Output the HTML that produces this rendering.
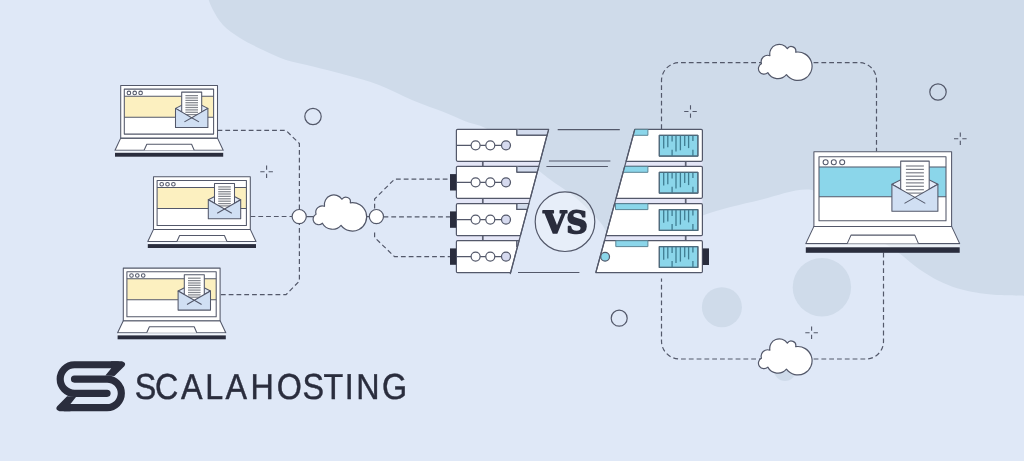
<!DOCTYPE html>
<html lang="en">
<head>
<meta charset="utf-8">
<title>ScalaHosting - VS</title>
<style>
html,body{margin:0;padding:0;background:#dfe8f7;}
body{width:1024px;height:461px;overflow:hidden;}
svg{display:block;will-change:transform;}
</style>
</head>
<body>
<svg width="1024" height="461" viewBox="0 0 1024 461">
<rect x="0" y="0" width="1024" height="461" fill="#dfe8f7"/>
<path d="M208.0,-2.0 C208.8,0.0 210.5,5.5 213.0,10.0 C215.5,14.5 218.5,20.3 223.0,25.0 C227.5,29.7 233.3,33.8 240.0,38.0 C246.7,42.2 255.3,46.3 263.0,50.0 C270.7,53.7 277.7,57.2 286.0,60.0 C294.3,62.8 303.0,64.0 313.0,66.5 C323.0,69.0 335.0,71.9 346.0,75.0 C357.0,78.1 368.0,80.8 379.0,85.0 C390.0,89.2 400.8,95.3 412.0,100.0 C423.2,104.7 437.0,109.4 446.0,113.0 C455.0,116.6 458.8,118.7 466.0,121.5 C473.2,124.3 480.0,124.4 489.0,130.0 C498.0,135.6 510.2,147.0 520.0,155.0 C529.8,163.0 538.8,171.0 548.0,178.0 C557.2,185.0 566.3,189.7 575.0,197.0 C583.7,204.3 593.8,215.2 600.0,222.0 C606.2,228.8 605.3,234.2 612.0,238.0 C618.7,241.8 629.5,246.0 640.0,245.0 C650.5,244.0 664.3,237.0 675.0,232.0 C685.7,227.0 689.8,220.3 704.0,215.0 C718.2,209.7 742.0,204.2 760.0,200.0 C778.0,195.8 797.0,187.5 812.0,190.0 C827.0,192.5 838.7,206.7 850.0,215.0 C861.3,223.3 871.8,233.7 880.0,240.0 C888.2,246.3 892.5,248.2 899.0,253.0 C905.5,257.8 912.4,264.4 919.0,269.0 C925.6,273.6 932.0,277.4 938.5,280.7 C945.0,283.9 951.5,286.5 958.0,288.5 C964.5,290.5 971.1,291.7 977.6,292.8 C984.1,293.9 988.9,294.5 997.0,295.0 C1005.1,295.5 1021.2,295.7 1026.0,295.8 L1026,-2 Z" fill="#cfdbea"/>
<circle cx="721.9" cy="307.2" r="20" fill="#cfdbea"/>
<circle cx="821.9" cy="287.2" r="29.2" fill="#cfdbea"/>
<circle cx="785" cy="370" r="11" fill="#cfdbea"/>
<path d="M217.5,130.4 H286 L299.4,143.6 V281 L286,294.7 H220" fill="none" stroke="#53586a" stroke-width="1.20" stroke-dasharray="4.8 3" stroke-dashoffset="0"/>
<path d="M250.5,216.5 H292" fill="none" stroke="#53586a" stroke-width="1.20" stroke-dasharray="4.8 3" stroke-dashoffset="0"/>
<path d="M306,216.6 H314 M366,216.6 H370" stroke="#53586a" stroke-width="1.20" fill="none"/>
<path d="M383.5,216.8 H450" fill="none" stroke="#53586a" stroke-width="1.20" stroke-dasharray="4.8 3" stroke-dashoffset="0"/>
<path d="M374.6,208.5 V199 L394.5,179.2 H450" fill="none" stroke="#53586a" stroke-width="1.20" stroke-dasharray="4.8 3" stroke-dashoffset="0"/>
<path d="M374.6,232.5 V237.5 L394.5,256.6 H450" fill="none" stroke="#53586a" stroke-width="1.20" stroke-dasharray="4.8 3" stroke-dashoffset="0"/>
<path d="M661.5,129 V80.5 A18,18 0 0 1 679.5,62.6 H859 A17.5,17.5 0 0 1 876.5,80 V151.5" fill="none" stroke="#53586a" stroke-width="1.20" stroke-dasharray="4.8 3" stroke-dashoffset="0"/>
<path d="M883.5,252.6 V341.5 A17.5,17.5 0 0 1 866,359 H679.5 A18,18 0 0 1 661.5,341 V278.5" fill="none" stroke="#53586a" stroke-width="1.20" stroke-dasharray="4.8 3" stroke-dashoffset="0"/>
<circle cx="313.0" cy="116.5" r="8.2" fill="none" stroke="#53586a" stroke-width="1.20"/>
<circle cx="938.0" cy="92.0" r="8.2" fill="none" stroke="#53586a" stroke-width="1.20"/>
<circle cx="619.2" cy="318.2" r="8.0" fill="none" stroke="#53586a" stroke-width="1.20"/>
<path d="M260.3,171.8 h4.3 M268.6,171.8 h4.3 M266.6,165.5 v4.3 M266.6,173.8 v4.3" stroke="#53586a" stroke-width="1.1" fill="none"/>
<path d="M684.2,111.5 h4.3 M692.5,111.5 h4.3 M690.5,105.2 v4.3 M690.5,113.5 v4.3" stroke="#53586a" stroke-width="1.1" fill="none"/>
<path d="M954.0,138.8 h4.3 M962.3,138.8 h4.3 M960.3,132.5 v4.3 M960.3,140.8 v4.3" stroke="#53586a" stroke-width="1.1" fill="none"/>
<path d="M805.3,332.7 h4.3 M813.6,332.7 h4.3 M811.6,326.4 v4.3 M811.6,334.7 v4.3" stroke="#53586a" stroke-width="1.1" fill="none"/>
<circle cx="299.2" cy="216.6" r="7.1" fill="#fff" stroke="#53586a" stroke-width="1.20"/>
<circle cx="376.4" cy="216.6" r="7.1" fill="#fff" stroke="#53586a" stroke-width="1.20"/>
<path transform="translate(289.60,182.60) scale(0.130208)" d="M203.0,243.0 A42.7,42.7 0 1 0 252.0,312.0 A87.1,87.1 0 0 0 395.0,328.0 A109.2,109.2 0 1 0 466.0,155.0 A35.2,35.2 0 0 0 402.0,128.0 A73.7,73.7 0 0 0 268.0,182.0 A49.9,49.9 0 0 0 203.0,243.0 Z" fill="#fff" stroke="#53586a" stroke-width="9.22" stroke-linejoin="round"/>
<path transform="translate(735.00,32.00) scale(0.130208)" d="M203.0,243.0 A42.7,42.7 0 1 0 252.0,312.0 A87.1,87.1 0 0 0 395.0,328.0 A109.2,109.2 0 1 0 466.0,155.0 A35.2,35.2 0 0 0 402.0,128.0 A73.7,73.7 0 0 0 268.0,182.0 A49.9,49.9 0 0 0 203.0,243.0 Z" fill="#fff" stroke="#53586a" stroke-width="9.22" stroke-linejoin="round"/>
<path transform="translate(735.00,326.50) scale(0.130208)" d="M203.0,243.0 A42.7,42.7 0 1 0 252.0,312.0 A87.1,87.1 0 0 0 395.0,328.0 A109.2,109.2 0 1 0 466.0,155.0 A35.2,35.2 0 0 0 402.0,128.0 A73.7,73.7 0 0 0 268.0,182.0 A49.9,49.9 0 0 0 203.0,243.0 Z" fill="#fff" stroke="#53586a" stroke-width="9.22" stroke-linejoin="round"/>
<g stroke="#53586a" stroke-width="1.05" stroke-linejoin="round"><path d="M120.7,138.1 L115.0,150.2 H223.2 L217.5,138.1 Z" fill="#fff"/><path d="M144.1,150.2 L146.8,144.2 H191.6 L194.2,150.2" fill="#fff"/><rect x="120.7" y="85.5" width="96.8" height="52.6" fill="#fff"/><rect x="124.3" y="96.2" width="89.3" height="21.0" fill="#fcf0c0" stroke="none"/><rect x="124.3" y="89.1" width="89.3" height="45.0" fill="none"/><path d="M124.3,96.2 H213.6 M124.3,117.2 H213.6" fill="none"/><circle cx="128.9" cy="92.9" r="1.8" fill="#fff"/><circle cx="134.7" cy="92.9" r="1.8" fill="#fff"/><circle cx="140.6" cy="92.9" r="1.8" fill="#fff"/><path d="M175.5,108.4 L191.7,100.2 L207.9,108.4 L191.7,117.7 Z" fill="#e3ebf8"/><rect x="181.7" y="92.1" width="20.0" height="30.0" fill="#fff"/><path d="M185.4,95.6 H198.0" stroke="#85888f" stroke-width="1.25"/><path d="M185.4,98.0 H198.0" stroke="#85888f" stroke-width="1.25"/><path d="M185.4,100.4 H198.0" stroke="#85888f" stroke-width="1.25"/><path d="M185.4,102.7 H198.0" stroke="#85888f" stroke-width="1.25"/><path d="M185.4,105.1 H198.0" stroke="#85888f" stroke-width="1.25"/><path d="M185.4,107.5 H198.0" stroke="#85888f" stroke-width="1.25"/><path d="M185.4,109.9 H198.0" stroke="#85888f" stroke-width="1.25"/><path d="M185.4,112.3 H198.0" stroke="#85888f" stroke-width="1.25"/><path d="M185.4,114.6 H198.0" stroke="#85888f" stroke-width="1.25"/><path d="M175.5,108.4 L191.7,117.7 L207.9,108.4 V127.5 H175.5 Z" fill="#d0dff3"/><path d="M191.7,117.7 L184.4,121.9 M191.7,117.7 L199.0,121.9" fill="none"/></g><rect x="115.0" y="150.7" width="108.2" height="2.4" fill="#fff" opacity="0.6"/><rect x="115.0" y="152.8" width="108.2" height="3.9" fill="#2a2d3d"/>
<g stroke="#53586a" stroke-width="1.05" stroke-linejoin="round"><path d="M153.5,229.4 L147.8,241.5 H256.0 L250.3,229.4 Z" fill="#fff"/><path d="M176.9,241.5 L179.6,235.5 H224.4 L227.0,241.5" fill="#fff"/><rect x="153.5" y="176.8" width="96.8" height="52.6" fill="#fff"/><rect x="157.1" y="187.5" width="89.3" height="21.0" fill="#fcf0c0" stroke="none"/><rect x="157.1" y="180.4" width="89.3" height="45.0" fill="none"/><path d="M157.1,187.5 H246.4 M157.1,208.5 H246.4" fill="none"/><circle cx="161.7" cy="184.2" r="1.8" fill="#fff"/><circle cx="167.5" cy="184.2" r="1.8" fill="#fff"/><circle cx="173.4" cy="184.2" r="1.8" fill="#fff"/><path d="M208.3,199.7 L224.5,191.5 L240.7,199.7 L224.5,209.0 Z" fill="#e3ebf8"/><rect x="214.5" y="183.4" width="20.0" height="30.0" fill="#fff"/><path d="M218.2,186.9 H230.8" stroke="#85888f" stroke-width="1.25"/><path d="M218.2,189.3 H230.8" stroke="#85888f" stroke-width="1.25"/><path d="M218.2,191.7 H230.8" stroke="#85888f" stroke-width="1.25"/><path d="M218.2,194.0 H230.8" stroke="#85888f" stroke-width="1.25"/><path d="M218.2,196.4 H230.8" stroke="#85888f" stroke-width="1.25"/><path d="M218.2,198.8 H230.8" stroke="#85888f" stroke-width="1.25"/><path d="M218.2,201.2 H230.8" stroke="#85888f" stroke-width="1.25"/><path d="M218.2,203.6 H230.8" stroke="#85888f" stroke-width="1.25"/><path d="M218.2,205.9 H230.8" stroke="#85888f" stroke-width="1.25"/><path d="M208.3,199.7 L224.5,209.0 L240.7,199.7 V218.8 H208.3 Z" fill="#d0dff3"/><path d="M224.5,209.0 L217.2,213.2 M224.5,209.0 L231.8,213.2" fill="none"/></g><rect x="147.8" y="242.0" width="108.2" height="2.4" fill="#fff" opacity="0.6"/><rect x="147.8" y="244.1" width="108.2" height="3.9" fill="#2a2d3d"/>
<g stroke="#53586a" stroke-width="1.05" stroke-linejoin="round"><path d="M123.3,320.7 L117.6,332.8 H225.8 L220.1,320.7 Z" fill="#fff"/><path d="M146.7,332.8 L149.4,326.8 H194.2 L196.8,332.8" fill="#fff"/><rect x="123.3" y="268.1" width="96.8" height="52.6" fill="#fff"/><rect x="126.9" y="278.8" width="89.3" height="21.0" fill="#fcf0c0" stroke="none"/><rect x="126.9" y="271.7" width="89.3" height="45.0" fill="none"/><path d="M126.9,278.8 H216.2 M126.9,299.8 H216.2" fill="none"/><circle cx="131.5" cy="275.5" r="1.8" fill="#fff"/><circle cx="137.3" cy="275.5" r="1.8" fill="#fff"/><circle cx="143.2" cy="275.5" r="1.8" fill="#fff"/><path d="M178.1,291.0 L194.3,282.8 L210.5,291.0 L194.3,300.3 Z" fill="#e3ebf8"/><rect x="184.3" y="274.7" width="20.0" height="30.0" fill="#fff"/><path d="M188.0,278.2 H200.6" stroke="#85888f" stroke-width="1.25"/><path d="M188.0,280.6 H200.6" stroke="#85888f" stroke-width="1.25"/><path d="M188.0,283.0 H200.6" stroke="#85888f" stroke-width="1.25"/><path d="M188.0,285.3 H200.6" stroke="#85888f" stroke-width="1.25"/><path d="M188.0,287.7 H200.6" stroke="#85888f" stroke-width="1.25"/><path d="M188.0,290.1 H200.6" stroke="#85888f" stroke-width="1.25"/><path d="M188.0,292.5 H200.6" stroke="#85888f" stroke-width="1.25"/><path d="M188.0,294.9 H200.6" stroke="#85888f" stroke-width="1.25"/><path d="M188.0,297.2 H200.6" stroke="#85888f" stroke-width="1.25"/><path d="M178.1,291.0 L194.3,300.3 L210.5,291.0 V310.1 H178.1 Z" fill="#d0dff3"/><path d="M194.3,300.3 L187.0,304.5 M194.3,300.3 L201.6,304.5" fill="none"/></g><rect x="117.6" y="333.3" width="108.2" height="2.4" fill="#fff" opacity="0.6"/><rect x="117.6" y="335.4" width="108.2" height="3.9" fill="#2a2d3d"/>
<g stroke="#53586a" stroke-width="1.05" stroke-linejoin="round"><path d="M813.9,226.4 L805.8,243.6 H959.7 L951.6,226.4 Z" fill="#fff"/><path d="M847.2,243.6 L851.0,235.1 H914.8 L918.5,243.6" fill="#fff"/><rect x="813.9" y="151.7" width="137.7" height="74.7" fill="#fff"/><rect x="819.0" y="166.9" width="127.0" height="29.8" fill="#8bd6ea" stroke="none"/><rect x="819.0" y="156.8" width="127.0" height="63.9" fill="none"/><path d="M819.0,166.9 H946.1 M819.0,196.7 H946.1" fill="none"/><circle cx="825.6" cy="162.2" r="2.5" fill="#fff"/><circle cx="833.8" cy="162.2" r="2.5" fill="#fff"/><circle cx="842.2" cy="162.2" r="2.5" fill="#fff"/><path d="M891.9,184.2 L914.9,172.6 L937.9,184.2 L914.9,197.4 Z" fill="#e3ebf8"/><rect x="900.7" y="161.1" width="28.5" height="42.6" fill="#fff"/><path d="M905.9,166.0 H923.9" stroke="#7d808a" stroke-width="1.20"/><path d="M905.9,169.4 H923.9" stroke="#7d808a" stroke-width="1.20"/><path d="M905.9,172.8 H923.9" stroke="#7d808a" stroke-width="1.20"/><path d="M905.9,176.2 H923.9" stroke="#7d808a" stroke-width="1.20"/><path d="M905.9,179.6 H923.9" stroke="#7d808a" stroke-width="1.20"/><path d="M905.9,182.9 H923.9" stroke="#7d808a" stroke-width="1.20"/><path d="M905.9,186.3 H923.9" stroke="#7d808a" stroke-width="1.20"/><path d="M905.9,189.7 H923.9" stroke="#7d808a" stroke-width="1.20"/><path d="M905.9,193.1 H923.9" stroke="#7d808a" stroke-width="1.20"/><path d="M891.9,184.2 L914.9,197.4 L937.9,184.2 V211.3 H891.9 Z" fill="#d0dff3"/><path d="M914.9,197.4 L904.5,203.4 M914.9,197.4 L925.3,203.4" fill="none"/></g><rect x="805.8" y="244.3" width="153.9" height="3.4" fill="#fff" opacity="0.6"/><rect x="805.8" y="247.3" width="153.9" height="5.5" fill="#2a2d3d"/>
<g stroke="#53586a" stroke-width="1.20" stroke-linejoin="round"><path d="M456.4,160.3 H540.4 L538.5,167.4 H456.4 Z" fill="#e4e6f7" stroke="none"/><path d="M702.4,160.3 H626.4 L624.5,167.4 H702.4 Z" fill="#e4e6f7" stroke="none"/><path d="M482.8,161.3 V166.4 M685.7,161.3 V166.4" fill="none" stroke-width="1.7" stroke="#5e6274"/><path d="M456.4,197.3 H530.6 L528.6,204.7 H456.4 Z" fill="#e4e6f7" stroke="none"/><path d="M702.4,197.3 H616.3 L614.3,204.7 H702.4 Z" fill="#e4e6f7" stroke="none"/><path d="M482.8,198.3 V203.7 M685.7,198.3 V203.7" fill="none" stroke-width="1.7" stroke="#5e6274"/><path d="M456.4,234.6 H520.7 L518.8,241.7 H456.4 Z" fill="#e4e6f7" stroke="none"/><path d="M702.4,234.6 H606.2 L604.3,241.7 H702.4 Z" fill="#e4e6f7" stroke="none"/><path d="M482.8,235.6 V240.7 M685.7,235.6 V240.7" fill="none" stroke-width="1.7" stroke="#5e6274"/><path d="M548.6,129.4 H457.6 Q456.4,129.4 456.4,130.6 V160.1 Q456.4,161.3 457.6,161.3 H540.1 Z" fill="#fff"/><path d="M516.9,129.4 V135.1 H547.1" fill="#d3dcee"/><path d="M516.9,129.9 V135.1 H546.6 L548.0,129.9 Z" fill="#d3dcee" stroke="none"/><path d="M516.9,129.4 V135.1 H547.1" fill="none"/><path d="M456.4,145.3 H506" fill="none"/><circle cx="475.6" cy="145.3" r="4.5" fill="#fff"/><circle cx="490.3" cy="145.3" r="4.5" fill="#fff"/><circle cx="506" cy="145.3" r="4.5" fill="#d6daef"/><path d="M634.8,129.4 H701.2 Q702.4,129.4 702.4,130.6 V160.1 Q702.4,161.3 701.2,161.3 H626.1 Z" fill="#fff"/><path d="M634.8,129.4 H647.9 V135.3 H633.2 Z" fill="#8bd6ea" stroke="#5b8494" stroke-width="1"/><rect x="659.3" y="135.3" width="38.6" height="20.8" fill="#8bd6ea"/><path d="M663.7,135.3 V148.5" stroke="#3f7d92" stroke-width="1.3" fill="none"/><path d="M667.8,135.3 V147.2" stroke="#3f7d92" stroke-width="1.3" fill="none"/><path d="M672.1,135.3 V141.6" stroke="#3f7d92" stroke-width="1.3" fill="none"/><path d="M672.1,149.8 V156.1" stroke="#3f7d92" stroke-width="1.3" fill="none"/><path d="M676.0,135.3 V151.6" stroke="#3f7d92" stroke-width="1.3" fill="none"/><path d="M680.4,135.3 V150.3" stroke="#3f7d92" stroke-width="1.3" fill="none"/><path d="M684.7,135.3 V145.9" stroke="#3f7d92" stroke-width="1.3" fill="none"/><path d="M688.6,135.3 V148.1" stroke="#3f7d92" stroke-width="1.3" fill="none"/><path d="M692.9,135.3 V141.1" stroke="#3f7d92" stroke-width="1.3" fill="none"/><path d="M692.9,149.8 V156.1" stroke="#3f7d92" stroke-width="1.3" fill="none"/><rect x="659.3" y="135.3" width="38.6" height="20.8" fill="none" stroke="#4c6f80" stroke-width="1"/><path d="M538.8,166.4 H457.6 Q456.4,166.4 456.4,167.6 V197.1 Q456.4,198.3 457.6,198.3 H530.3 Z" fill="#fff"/><path d="M516.9,166.4 V172.1 H537.3" fill="#d3dcee"/><path d="M516.9,166.9 V172.1 H536.8 L538.1,166.9 Z" fill="#d3dcee" stroke="none"/><path d="M516.9,166.4 V172.1 H537.3" fill="none"/><path d="M456.4,182.3 H506" fill="none"/><circle cx="475.6" cy="182.3" r="4.5" fill="#fff"/><circle cx="490.3" cy="182.3" r="4.5" fill="#fff"/><circle cx="506" cy="182.3" r="4.5" fill="#d6daef"/><rect x="450" y="174.1" width="6.2" height="16.4" fill="#2a2d3d" stroke="none"/><path d="M624.7,166.4 H701.2 Q702.4,166.4 702.4,167.6 V197.1 Q702.4,198.3 701.2,198.3 H616.1 Z" fill="#fff"/><path d="M624.7,166.4 H647.9 V172.3 H623.1 Z" fill="#8bd6ea" stroke="#5b8494" stroke-width="1"/><rect x="659.3" y="172.3" width="38.6" height="20.8" fill="#8bd6ea"/><path d="M663.7,172.3 V185.5" stroke="#3f7d92" stroke-width="1.3" fill="none"/><path d="M667.8,172.3 V184.2" stroke="#3f7d92" stroke-width="1.3" fill="none"/><path d="M672.1,172.3 V178.6" stroke="#3f7d92" stroke-width="1.3" fill="none"/><path d="M672.1,186.8 V193.1" stroke="#3f7d92" stroke-width="1.3" fill="none"/><path d="M676.0,172.3 V188.6" stroke="#3f7d92" stroke-width="1.3" fill="none"/><path d="M680.4,172.3 V187.3" stroke="#3f7d92" stroke-width="1.3" fill="none"/><path d="M684.7,172.3 V182.9" stroke="#3f7d92" stroke-width="1.3" fill="none"/><path d="M688.6,172.3 V185.1" stroke="#3f7d92" stroke-width="1.3" fill="none"/><path d="M692.9,172.3 V178.1" stroke="#3f7d92" stroke-width="1.3" fill="none"/><path d="M692.9,186.8 V193.1" stroke="#3f7d92" stroke-width="1.3" fill="none"/><rect x="659.3" y="172.3" width="38.6" height="20.8" fill="none" stroke="#4c6f80" stroke-width="1"/><path d="M528.9,203.7 H457.6 Q456.4,203.7 456.4,204.9 V234.4 Q456.4,235.6 457.6,235.6 H520.4 Z" fill="#fff"/><path d="M516.9,203.7 V209.4 H527.4" fill="#d3dcee"/><path d="M516.9,204.2 V209.4 H526.9 L528.2,204.2 Z" fill="#d3dcee" stroke="none"/><path d="M516.9,203.7 V209.4 H527.4" fill="none"/><path d="M456.4,219.6 H506" fill="none"/><circle cx="475.6" cy="219.6" r="4.5" fill="#fff"/><circle cx="490.3" cy="219.6" r="4.5" fill="#fff"/><circle cx="506" cy="219.6" r="4.5" fill="#d6daef"/><rect x="450" y="211.4" width="6.2" height="16.4" fill="#2a2d3d" stroke="none"/><path d="M614.6,203.7 H701.2 Q702.4,203.7 702.4,204.9 V234.4 Q702.4,235.6 701.2,235.6 H605.9 Z" fill="#fff"/><path d="M615.5,203.7 H647.9 V209.6 H615.5 Z" fill="#8bd6ea" stroke="#5b8494" stroke-width="1"/><rect x="659.3" y="209.6" width="38.6" height="20.8" fill="#8bd6ea"/><path d="M663.7,209.6 V222.8" stroke="#3f7d92" stroke-width="1.3" fill="none"/><path d="M667.8,209.6 V221.5" stroke="#3f7d92" stroke-width="1.3" fill="none"/><path d="M672.1,209.6 V215.9" stroke="#3f7d92" stroke-width="1.3" fill="none"/><path d="M672.1,224.1 V230.4" stroke="#3f7d92" stroke-width="1.3" fill="none"/><path d="M676.0,209.6 V225.9" stroke="#3f7d92" stroke-width="1.3" fill="none"/><path d="M680.4,209.6 V224.6" stroke="#3f7d92" stroke-width="1.3" fill="none"/><path d="M684.7,209.6 V220.2" stroke="#3f7d92" stroke-width="1.3" fill="none"/><path d="M688.6,209.6 V222.4" stroke="#3f7d92" stroke-width="1.3" fill="none"/><path d="M692.9,209.6 V215.4" stroke="#3f7d92" stroke-width="1.3" fill="none"/><path d="M692.9,224.1 V230.4" stroke="#3f7d92" stroke-width="1.3" fill="none"/><rect x="659.3" y="209.6" width="38.6" height="20.8" fill="none" stroke="#4c6f80" stroke-width="1"/><path d="M519.0,240.7 H457.6 Q456.4,240.7 456.4,241.9 V271.4 Q456.4,272.6 457.6,272.6 H510.6 Z" fill="#fff"/><path d="M516.9,240.7 V246.4 H517.5" fill="#d3dcee"/><path d="M516.9,241.2 V246.4 H517.0 L518.4,241.2 Z" fill="#d3dcee" stroke="none"/><path d="M516.9,240.7 V246.4 H517.5" fill="none"/><path d="M456.4,256.6 H506" fill="none"/><circle cx="475.6" cy="256.6" r="4.5" fill="#fff"/><circle cx="490.3" cy="256.6" r="4.5" fill="#fff"/><circle cx="506" cy="256.6" r="4.5" fill="#d6daef"/><rect x="450" y="248.4" width="6.2" height="16.4" fill="#2a2d3d" stroke="none"/><path d="M604.5,240.7 H701.2 Q702.4,240.7 702.4,241.9 V271.4 Q702.4,272.6 701.2,272.6 H595.8 Z" fill="#fff"/><path d="M615.8,240.7 H647.9 V246.6 H615.8 Z" fill="#8bd6ea" stroke="#5b8494" stroke-width="1"/><rect x="659.3" y="246.6" width="38.6" height="20.8" fill="#8bd6ea"/><path d="M663.7,246.6 V259.8" stroke="#3f7d92" stroke-width="1.3" fill="none"/><path d="M667.8,246.6 V258.5" stroke="#3f7d92" stroke-width="1.3" fill="none"/><path d="M672.1,246.6 V252.9" stroke="#3f7d92" stroke-width="1.3" fill="none"/><path d="M672.1,261.1 V267.4" stroke="#3f7d92" stroke-width="1.3" fill="none"/><path d="M676.0,246.6 V262.9" stroke="#3f7d92" stroke-width="1.3" fill="none"/><path d="M680.4,246.6 V261.6" stroke="#3f7d92" stroke-width="1.3" fill="none"/><path d="M684.7,246.6 V257.2" stroke="#3f7d92" stroke-width="1.3" fill="none"/><path d="M688.6,246.6 V259.4" stroke="#3f7d92" stroke-width="1.3" fill="none"/><path d="M692.9,246.6 V252.4" stroke="#3f7d92" stroke-width="1.3" fill="none"/><path d="M692.9,261.1 V267.4" stroke="#3f7d92" stroke-width="1.3" fill="none"/><rect x="659.3" y="246.6" width="38.6" height="20.8" fill="none" stroke="#4c6f80" stroke-width="1"/><rect x="702.7" y="248.4" width="6.3" height="16.6" fill="#2a2d3d" stroke="none"/><circle cx="605.1" cy="256.8" r="4.4" fill="#8bd6ea"/><path d="M548.6,129.4 L510.2,274.2" fill="none"/><path d="M634.8,129.4 L595.8,272.6" fill="none"/><path d="M557.7,129.6 H619.8 M548.9,161 H610.4 M546.4,166.5 H607.9 M518,272.5 H579.4" fill="none"/><circle cx="565" cy="221.7" r="29.8" fill="#fff" fill-opacity="0.25"/></g>
<g opacity="0.999"><text transform="translate(565.4,233) scale(0.1)" x="0" y="0" text-rendering="geometricPrecision" text-anchor="middle" font-family="'DejaVu Serif', 'Liberation Serif', serif" font-weight="bold" font-size="305" fill="#2a2d3d" stroke="#2a2d3d" stroke-width="17" stroke-linejoin="round" textLength="444" lengthAdjust="spacingAndGlyphs">VS</text></g>
<g transform="translate(46,350) scale(0.15175)" fill="none" stroke="#2a2d3d" stroke-width="47"><path d="M470,97.5 H187.5 A94,94 0 0 0 187.5,285.5 H402.5" stroke-linecap="round"/><path d="M120,379.5 H402.5 A94,94 0 0 0 402.5,191.5 H187.5" stroke-linecap="round"/><path d="M429,121.5 L391,168.5 L451,172 L516,107 C530,90 516,74 492,74 L429,74 Z" fill="#2a2d3d" stroke="none"/><path d="M161,355.5 L199,308.5 L139,305 L74,370 C60,387 74,403 98,403 L161,403 Z" fill="#2a2d3d" stroke="none"/></g>
<g opacity="0.999"><text transform="translate(-0.3,399) scale(0.0890,0.1000)" x="1518 1744 2038 2310 2538 2818 3113 3403 3638 3878 4006 4295" y="0" text-rendering="geometricPrecision" font-family="'Liberation Sans', sans-serif" font-size="363" fill="#2a2d3d" stroke="#2a2d3d" stroke-width="4.5">SCALAHOSTING</text></g>
</svg>
</body>
</html>
